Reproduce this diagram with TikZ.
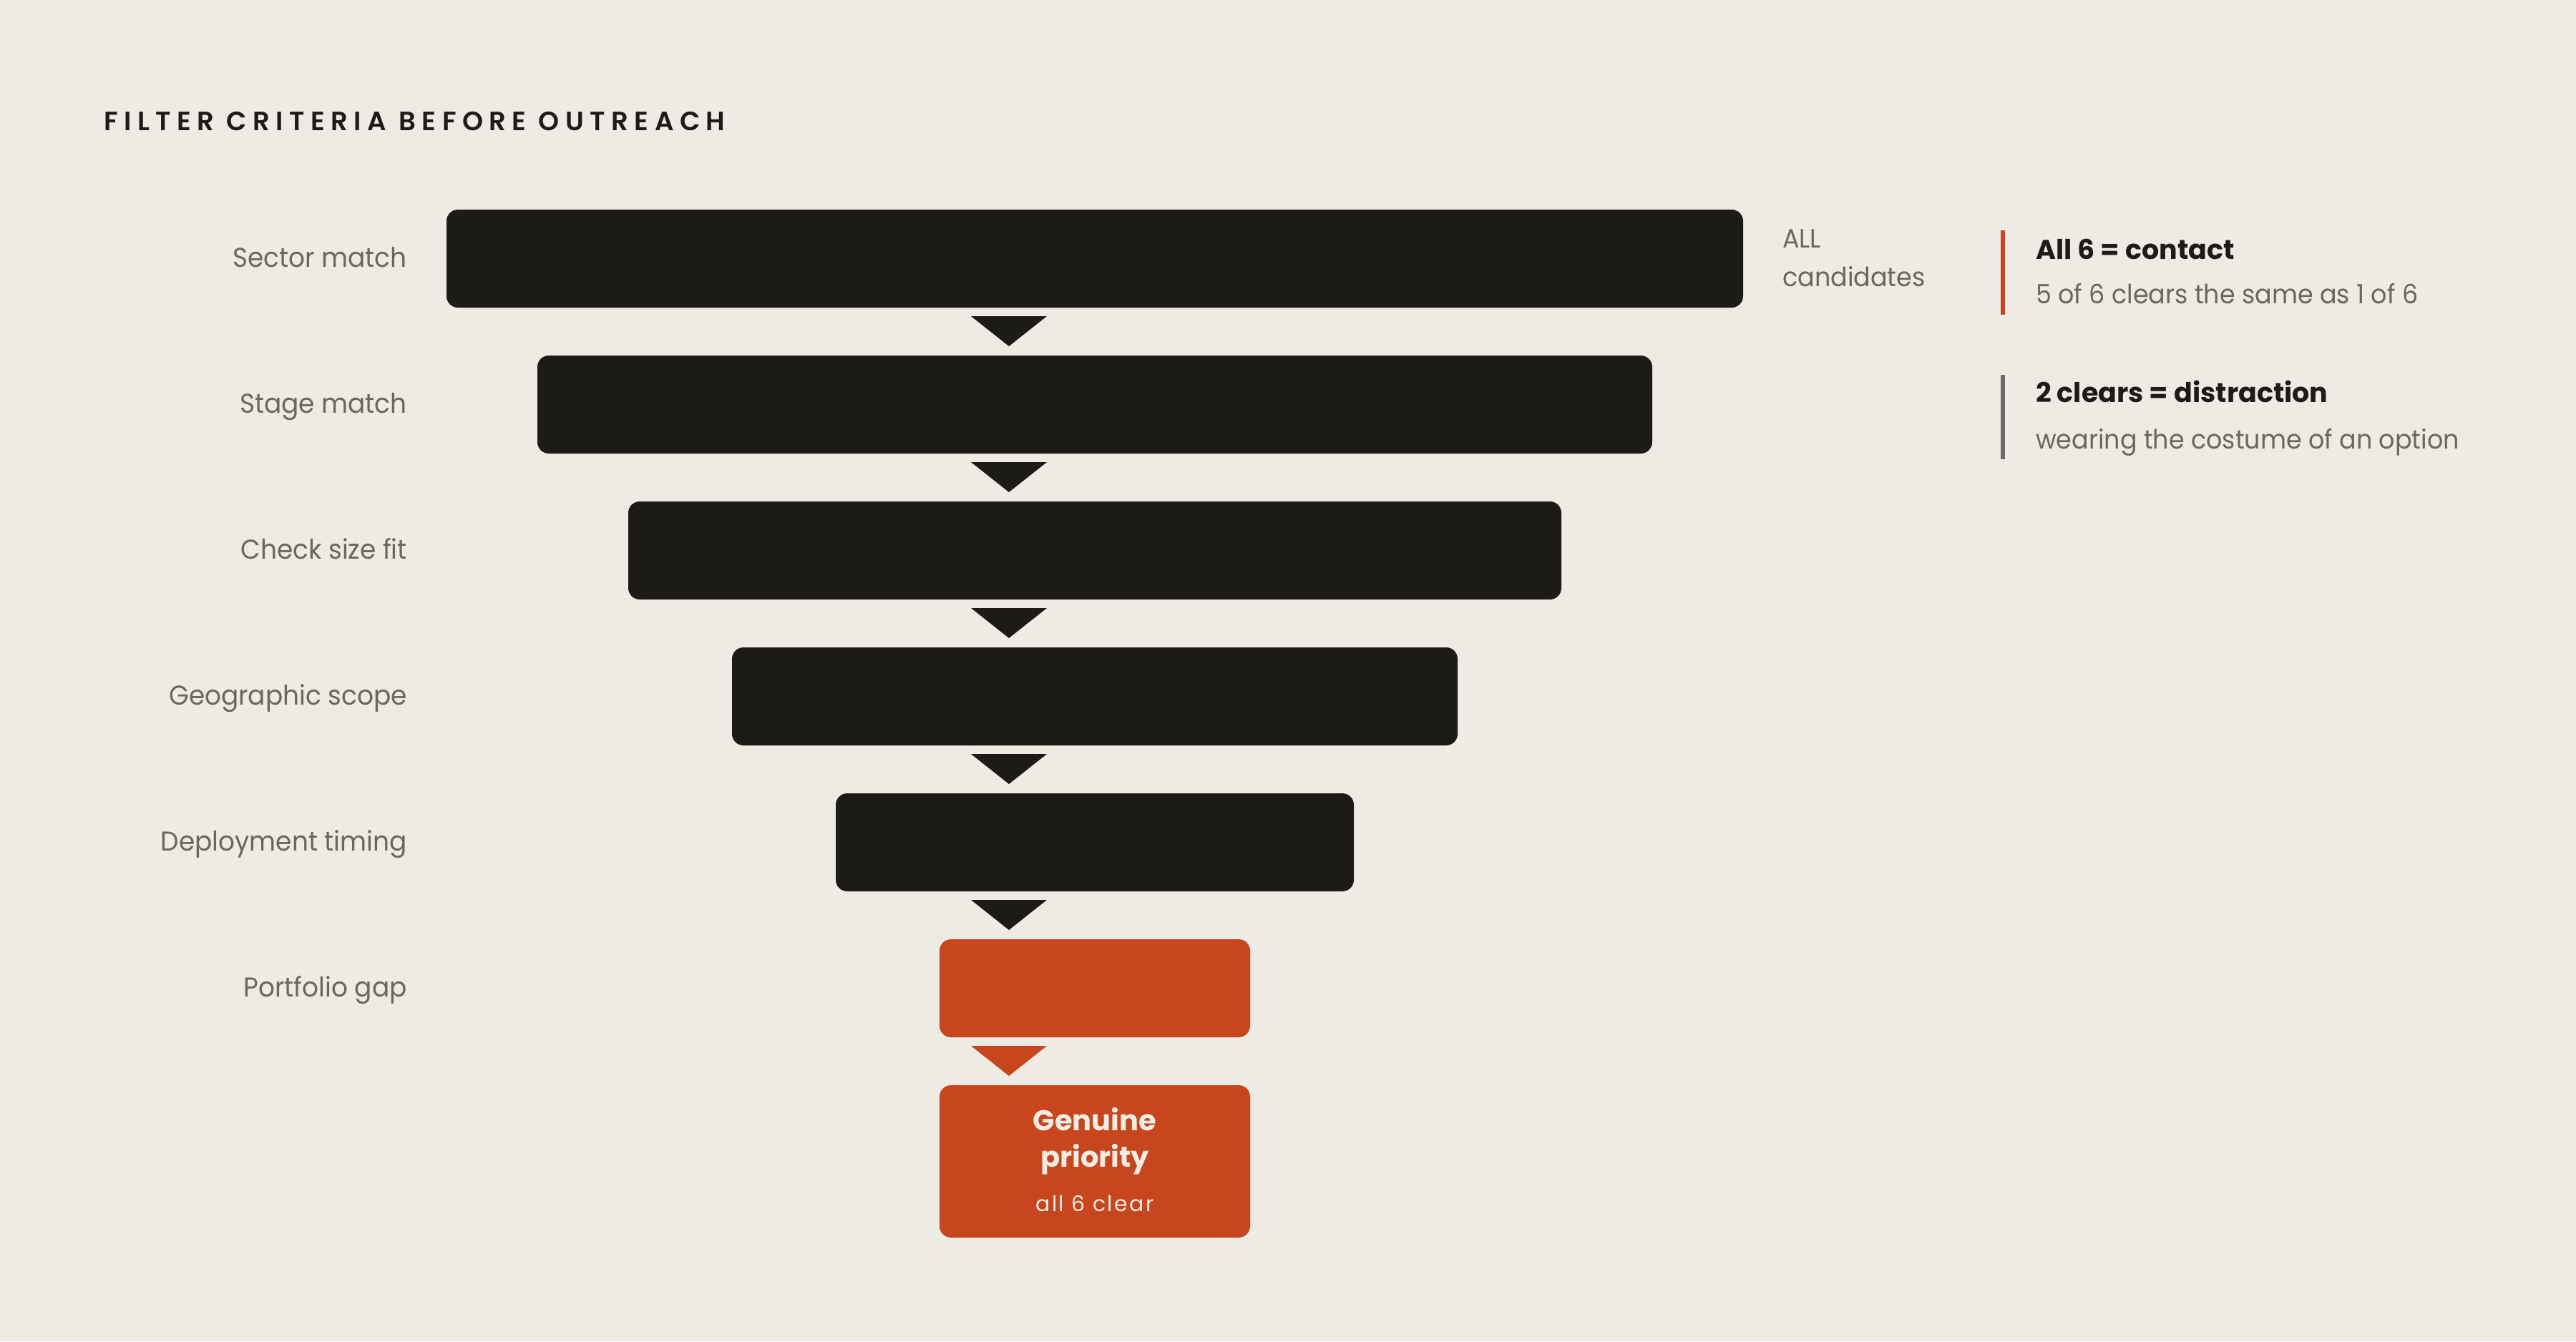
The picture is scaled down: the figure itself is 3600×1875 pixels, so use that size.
\documentclass[tikz,border=0pt]{standalone}
\usepackage{fontspec}
\setmainfont{Poppins}
\newfontfamily\titlefont[LetterSpace=23]{Poppins SemiBold}
\newfontfamily\trackfont[LetterSpace=8]{Poppins}
\newfontfamily\regfont[FakeStretch=0.945]{Poppins}
\usetikzlibrary{calc}
\definecolor{bg}{HTML}{EEEBE4}
\definecolor{ink}{HTML}{1C1B17}
\definecolor{rust}{HTML}{C8461D}
\definecolor{mute}{HTML}{6A6762}
\definecolor{cream}{HTML}{F1ECE4}
\definecolor{rulegray}{HTML}{6B6A67}
\begin{document}
\begin{tikzpicture}[x=1pt,y=-1pt,
  bar/.style={fill=ink, rounded corners=16pt, minimum height=137pt, inner sep=0pt, outer sep=0pt},
  hot/.style={bar, fill=rust},
  lbl/.style={anchor=base east, inner sep=0pt, text=mute, font=\fontsize{38}{46}\regfont},
  note/.style={anchor=base west, inner sep=0pt, text=mute, font=\fontsize{37}{44}\regfont},
  head/.style={anchor=base west, inner sep=0pt, text=ink, font=\fontsize{38}{46}\selectfont\bfseries},
  tri/.style={fill=#1}
]
\fill[bg] (0,0) rectangle (3600,1875);
\useasboundingbox (0,0) rectangle (3600,1875);

% title
\node[anchor=base west, inner sep=0pt, text=ink, font=\fontsize{37}{44}\titlefont] (title) at (145,182) {FILTER CRITERIA BEFORE OUTREACH};

% bars
\node[bar, minimum width=1812pt] (b1) at (1530,361.5) {};
\node[bar, minimum width=1558pt] (b2) at (1530,565.5) {};
\node[bar, minimum width=1304pt] (b3) at (1530,769.5) {};
\node[bar, minimum width=1014pt] (b4) at (1530,973.5) {};
\node[bar, minimum width=724pt]  (b5) at (1530,1177.5) {};
\node[hot, minimum width=434pt]  (b6) at (1530,1381.5) {};
\node[hot, minimum width=434pt, minimum height=213pt] (b7) at (1530,1623.5) {};

% arrow triangles between stages
\foreach \a/\c in {b1/ink,b2/ink,b3/ink,b4/ink,b5/ink,b6/rust}{
  \fill[tri=\c] ($(\a.south)+(-173,12)$) -- ++(106,0) -- ++(-53,42) -- cycle;
}

% stage labels
\node[lbl] (l1) at (569,373) {Sector match};
\node[lbl] (l2) at (569,577) {Stage match};
\node[lbl] (l3) at (569,781) {Check size fit};
\node[lbl] (l4) at (569,985) {Geographic scope};
\node[lbl] (l5) at (569,1189) {Deployment timing};
\node[lbl] (l6) at (569,1393) {Portfolio gap};

% final box text
\node[anchor=base, inner sep=0pt, text=cream, font=\fontsize{40}{48}\selectfont\bfseries] (g1) at (1530,1580) {Genuine};
\node[anchor=base, inner sep=0pt, text=cream, font=\fontsize{40}{48}\selectfont\bfseries] (g2) at (1530,1631) {priority};
\node[anchor=base, inner sep=0pt, text=cream, font=\fontsize{30}{36}\trackfont] (g3) at (1530,1693) {all 6 clear};

% all candidates
\node[note] (all1) at (2491,346) {ALL};
\node[note] (all2) at (2491,400) {candidates};

% legend
\fill[rust] (2796,322) rectangle (2802,440);
\node[head] (h1) at (2845,362) {All 6 = contact};
\node[note] (n1) at (2845,424) {5 of 6 clears the same as 1 of 6};
\fill[rulegray] (2796,524) rectangle (2802,642);
\node[head] (h2) at (2845,562) {2 clears = distraction};
\node[note] (n2) at (2845,627) {wearing the costume of an option};
\end{tikzpicture}
\end{document}
